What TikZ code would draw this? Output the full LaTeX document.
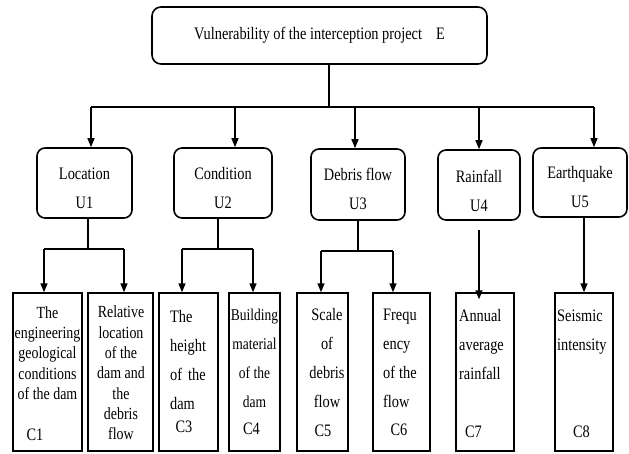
\documentclass[tikz,border=0pt]{standalone}
\usepackage{fontspec}
\setmainfont{Liberation Serif}[FakeStretch=0.82]
\usetikzlibrary{arrows.meta}
\tikzset{
	topbox/.style={draw, line width=1.6pt, rounded corners=9pt, minimum width=335pt, minimum height=57pt, inner sep=0pt, font=\fontsize{17.5}{20}\selectfont},
	ubox/.style={draw, line width=1.6pt, rounded corners=8pt, inner sep=0pt},
	utext/.style={inner sep=0pt, align=center, font=\fontsize{17.5}{29}\selectfont},
	cbox/.style={draw, line width=1.4pt, minimum height=158pt, inner sep=0pt},
	ctext/.style={inner sep=0pt, align=center, font=\fontsize{17}{20.3}\selectfont},
	ctextwide/.style={inner sep=0pt, font=\fontsize{17.5}{29}\selectfont},
	clabel/.style={inner sep=0pt, font=\fontsize{17.5}{20}\selectfont},
	link/.style={line width=1.4pt},
	linkarrow/.style={line width=1.4pt, -{Triangle[length=9pt,width=7pt]}}
}

\begin{document}
\begin{tikzpicture}[x=1pt, y=-1pt]
		%%%%% START %%%%%
		\useasboundingbox (0, 0) rectangle (629, 453);
		
		\node[topbox] (e) at (319.5, 35.5) {Vulnerability of the interception project\hspace{14pt}E};
		
		\node[ubox, minimum width=95pt, minimum height=70pt] (u1) at (84.5, 183) {};
		\node[utext] (u1t) at (84.5, 188.5) {Location\\U1};
		\node[ubox, minimum width=98pt, minimum height=70pt] (u2) at (223, 183) {};
		\node[utext] (u2t) at (223, 188.5) {Condition\\U2};
		\node[ubox, minimum width=94pt, minimum height=71pt] (u3) at (358, 184.5) {};
		\node[utext] (u3t) at (358, 188.5) {Debris flow\\U3};
		\node[ubox, minimum width=82pt, minimum height=70pt] (u4) at (479, 185) {};
		\node[utext] (u4t) at (479, 191) {Rainfall\\U4};
		\node[ubox, minimum width=94pt, minimum height=69pt] (u5) at (580, 182.5) {};
		\node[utext] (u5t) at (580, 187) {Earthquake\\U5};
		
		\node[cbox, minimum width=69pt] (c1) at (47.5, 372) {};
		\node[cbox, minimum width=65pt] (c2) at (120.5, 372) {};
		\node[cbox, minimum width=59pt] (c3) at (188.5, 372) {};
		\node[cbox, minimum width=51pt] (c4) at (254.5, 372) {};
		\node[cbox, minimum width=51pt] (c5) at (322.5, 372) {};
		\node[cbox, minimum width=57pt] (c6) at (401.5, 372) {};
		\node[cbox, minimum width=58pt] (c7) at (485, 372) {};
		\node[cbox, minimum width=58pt] (c8) at (584, 372) {};
		
		\node[ctext] (c1t) at (47.5, 353) {The\\engineering\\geological\\conditions\\of the dam};
		\node[clabel] (c1l) at (35, 435) {C1};
		\node[ctext] (c2t) at (121, 373) {Relative\\location\\of the\\dam and\\the\\debris\\flow};
		\node[ctextwide, align=left, anchor=west] (c3t) at (170, 360) {The\\height\\of\hspace{6pt}the\\dam};
		\node[clabel] (c3l) at (184, 427) {C3};
		\node[ctextwide, align=center, font=\fontsize{16.5}{29}\selectfont] (c4t) at (254.5, 358) {Building\\material\\of the\\dam};
		\node[clabel] (c4l) at (251.5, 429) {C4};
		\node[ctextwide, align=center] (c5t) at (327, 358.5) {Scale\\of\\debris\\flow};
		\node[clabel] (c5l) at (323, 431) {C5};
		\node[ctextwide, align=left, anchor=west] (c6t) at (383, 358.5) {Frequ\\ency\\of\hspace{4pt}the\\flow};
		\node[clabel] (c6l) at (399, 430) {C6};
		\node[ctextwide, align=left, anchor=west] (c7t) at (459, 345) {Annual\\average\\rainfall};
		\node[clabel] (c7l) at (473.5, 432) {C7};
		\node[ctextwide, align=left, anchor=west] (c8t) at (557, 332) {Seismic\\intensity};
		\node[clabel] (c8l) at (581.5, 432) {C8};
		
		% top bus
		\coordinate (bus) at (329, 107);
		\coordinate (b1) at (91, 107);
		\coordinate (b2) at (235, 107);
		\coordinate (b3) at (355, 107);
		\coordinate (b4) at (479, 107);
		\coordinate (b5) at (594, 107);
		\draw[link] (e.south -| bus) -- (bus);
		\draw[link] (b1) -- (b5);
		\foreach \i in {1,...,5}
			\draw[linkarrow] (b\i) -- (b\i |- u\i.north);
		
		% lower branches
		\coordinate (d1) at (88, 249);
		\coordinate (d1l) at (44, 249);
		\coordinate (d1r) at (124, 249);
		\draw[link] (d1 |- u1.south) -- (d1);
		\draw[link] (d1l) -- (d1r);
		\draw[linkarrow] (d1l) -- (d1l |- c1.north);
		\draw[linkarrow] (d1r) -- (d1r |- c2.north);
		
		\coordinate (d2) at (218, 249);
		\coordinate (d2l) at (182, 249);
		\coordinate (d2r) at (253, 249);
		\draw[link] (d2 |- u2.south) -- (d2);
		\draw[link] (d2l) -- (d2r);
		\draw[linkarrow] (d2l) -- (d2l |- c3.north);
		\draw[linkarrow] (d2r) -- (d2r |- c4.north);
		
		\coordinate (d3) at (358, 251);
		\coordinate (d3l) at (321, 251);
		\coordinate (d3r) at (393, 251);
		\draw[link] (d3 |- u3.south) -- (d3);
		\draw[link] (d3l) -- (d3r);
		\draw[linkarrow] (d3l) -- (d3l |- c5.north);
		\draw[linkarrow] (d3r) -- (d3r |- c6.north);
		
		\coordinate (d4) at (479, 230);
		\draw[linkarrow] (d4) -- ([yshift=-7pt]d4 |- c7.north);
		
		\coordinate (d5) at (584, 230);
		\draw[linkarrow] (d5 |- u5.south) -- (d5 |- c8.north);
		%%%%% END %%%%%
\end{tikzpicture}
\end{document}
